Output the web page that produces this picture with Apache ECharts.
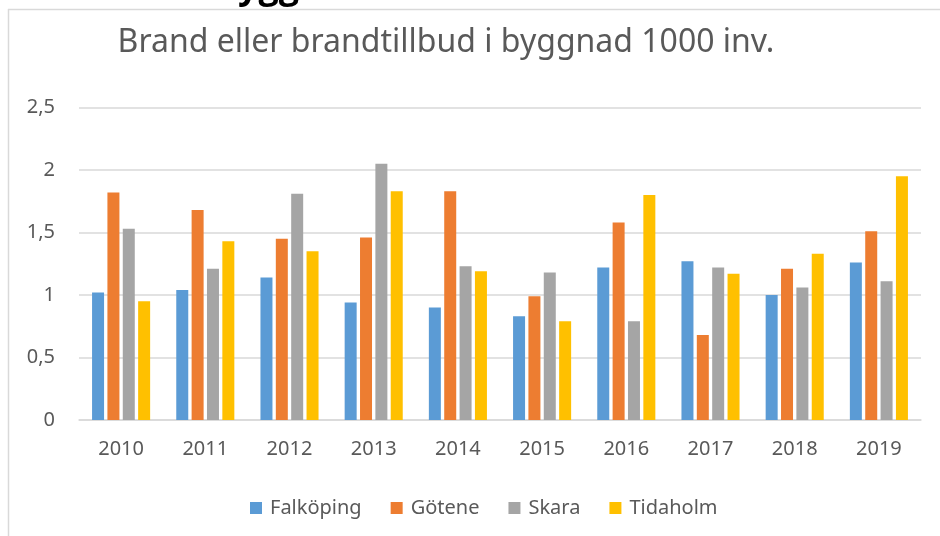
<!DOCTYPE html>
<html>
<head>
<meta charset="utf-8">
<script src="https://cdn.jsdelivr.net/npm/echarts@6/dist/echarts.min.js"></script>
<style>
  html, body { margin: 0; padding: 0; background: #fff; }
  #chart { width: 940px; height: 536px; }
</style>
</head>
<body>
<div id="chart"></div>
<script>
// Brand eller brandtillbud per 1000 inv.
var years = ['2010', '2011', '2012', '2013', '2014', '2015', '2016', '2017', '2018', '2019'];
var falkoping = [1.02, 1.04, 1.14, 0.94, 0.90, 0.83, 1.22, 1.27, 1.00, 1.26];
var gotene    = [1.82, 1.68, 1.45, 1.46, 1.83, 0.99, 1.58, 0.68, 1.21, 1.51];
var skara     = [1.53, 1.21, 1.81, 2.05, 1.23, 1.18, 0.79, 1.22, 1.06, 1.11];
var tidaholm  = [0.95, 1.43, 1.35, 1.83, 1.19, 0.79, 1.80, 1.17, 1.33, 1.95];

var names = ['Falköping', 'Götene', 'Skara', 'Tidaholm'];
var colors = ['#5B9BD5', '#ED7D31', '#A5A5A5', '#FFC000'];
var font = 'Noto Sans';

function bars(name, data, i) {
  return {
    name: name,
    type: 'bar',
    data: data,
    barWidth: 12,
    barGap: '28%',
    itemStyle: { color: colors[i] },
    emphasis: { disabled: true }
  };
}

var chart = echarts.init(document.getElementById('chart'));
var option = {
  animation: false,
  color: colors,
  title: {
    text: 'Brand eller brandtillbud i byggnad 1000 inv.',
    left: 441,
    textAlign: 'center',
    top: 22,
    textStyle: { fontFamily: font, fontSize: 32, fontWeight: 'normal', color: '#595959' }
  },
  graphic: [
    { type: 'line', shape: { x1: 8, y1: 9.5, x2: 940, y2: 9.5 }, style: { stroke: '#d9d9d9', lineWidth: 1.5 } },
    { type: 'line', shape: { x1: 8.5, y1: 9, x2: 8.5, y2: 536 }, style: { stroke: '#d9d9d9', lineWidth: 1.5 } },
    { type: 'text', left: 238, top: -30, style: { text: 'ygg', font: 'bold 36px "Open Sans"', fill: '#000' } }
  ],
  legend: {
    data: names,
    left: 245,
    top: 493,
    itemWidth: 12,
    itemHeight: 12,
    itemGap: 29,
    icon: 'rect',
    textStyle: { fontFamily: font, fontSize: 20, color: '#595959', padding: [0, 0, 0, 3] }
  },
  grid: { left: 79, right: 19, top: 107.5, bottom: 116 },
  xAxis: {
    type: 'category',
    data: years,
    axisLine: { lineStyle: { color: '#d9d9d9', width: 1.5 } },
    axisTick: { show: false },
    axisLabel: { fontFamily: font, fontSize: 20, color: '#595959', margin: 19 }
  },
  yAxis: {
    type: 'value',
    min: 0,
    max: 2.5,
    interval: 0.5,
    axisLine: { show: false },
    axisTick: { show: false },
    splitLine: { lineStyle: { color: '#d9d9d9', width: 1.5 } },
    axisLabel: {
      fontFamily: font, fontSize: 20, color: '#595959', margin: 24,
      formatter: function (v) { return String(v).replace('.', ','); }
    }
  },
  series: [
    bars(names[0], falkoping, 0),
    bars(names[1], gotene, 1),
    bars(names[2], skara, 2),
    bars(names[3], tidaholm, 3)
  ]
};
chart.setOption(option);
window.addEventListener('resize', function () {
  chart.resize();
});
</script>
</body>
</html>
